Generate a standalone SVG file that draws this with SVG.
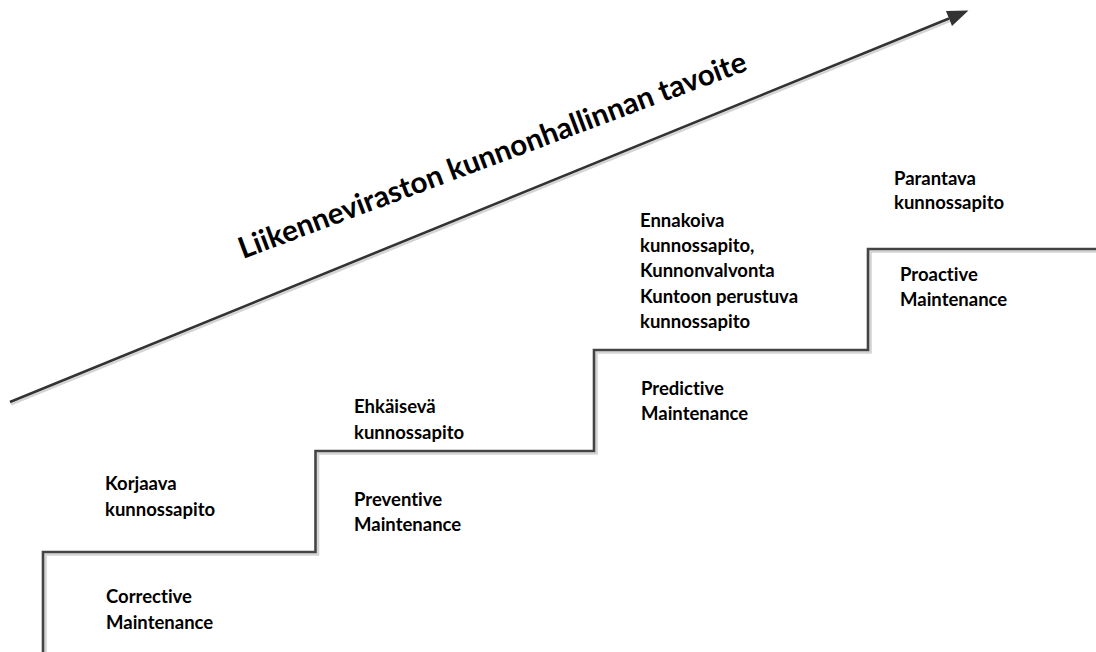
<svg xmlns="http://www.w3.org/2000/svg" width="1096" height="652" viewBox="0 0 1096 652">
  <style>
    text { font-variant-ligatures: none; font-feature-settings: "liga" 0, "clig" 0; }
    .lbl { font-family: "Lato", "Liberation Sans", sans-serif; font-weight: 700; font-size: 18.5px; fill: #000; }
    .title { font-family: "Lato", "Liberation Sans", sans-serif; font-weight: 700; font-size: 29.5px; fill: #000; }
    .step { fill: none; stroke: #444; stroke-width: 2.6; stroke-linejoin: miter; }
    .shadow { fill: none; stroke: #d4d4d4; stroke-width: 2.6; }
  </style>
  <defs>
    <marker id="head" markerUnits="userSpaceOnUse" markerWidth="22" markerHeight="16" refX="0" refY="8" orient="auto" overflow="visible">
      <path d="M0,0 L21,8 L0,16 z" fill="#333"/>
    </marker>
  </defs>
  <rect width="1096" height="652" fill="#fff"/>

  <!-- staircase and goal arrow -->
  <g id="connectors">
    <path class="shadow" d="M45.5,652 V554.5 H318 V453.5 H596.5 V352.5 H870.5 V251.5 H1096"/>
    <path class="step" d="M43,652 V552 H315.5 V451 H594 V350 H868 V249 H1096"/>
    <line x1="11" y1="404.5" x2="950" y2="21" stroke="#d4d4d4" stroke-width="2.4"/>
    <line x1="10" y1="402" x2="949" y2="18.5" stroke="#333" stroke-width="2.6" marker-end="url(#head)"/>
  </g>

  <g id="goal-title">
    <text class="title" transform="translate(243,259) rotate(-20.5)">Liikenneviraston kunnonhallinnan tavoite</text>
  </g>

  <g id="corrective">
    <text class="lbl" x="105" y="490">Korjaava</text>
    <text class="lbl" x="105" y="516">kunnossapito</text>
    <text class="lbl" x="106" y="603">Corrective</text>
    <text class="lbl" x="106" y="629">Maintenance</text>
  </g>

  <g id="preventive">
    <text class="lbl" x="354" y="413">Ehkäisevä</text>
    <text class="lbl" x="354" y="439">kunnossapito</text>
    <text class="lbl" x="354" y="506">Preventive</text>
    <text class="lbl" x="354" y="531">Maintenance</text>
  </g>

  <g id="predictive">
    <text class="lbl" x="640" y="227">Ennakoiva</text>
    <text class="lbl" x="640" y="252">kunnossapito,</text>
    <text class="lbl" x="640" y="277">Kunnonvalvonta</text>
    <text class="lbl" x="640" y="303">Kuntoon perustuva</text>
    <text class="lbl" x="640" y="328">kunnossapito</text>
    <text class="lbl" x="641" y="395">Predictive</text>
    <text class="lbl" x="641" y="420">Maintenance</text>
  </g>

  <g id="proactive">
    <text class="lbl" x="894" y="185">Parantava</text>
    <text class="lbl" x="894" y="209">kunnossapito</text>
    <text class="lbl" x="900" y="281">Proactive</text>
    <text class="lbl" x="900" y="306">Maintenance</text>
  </g>
</svg>
